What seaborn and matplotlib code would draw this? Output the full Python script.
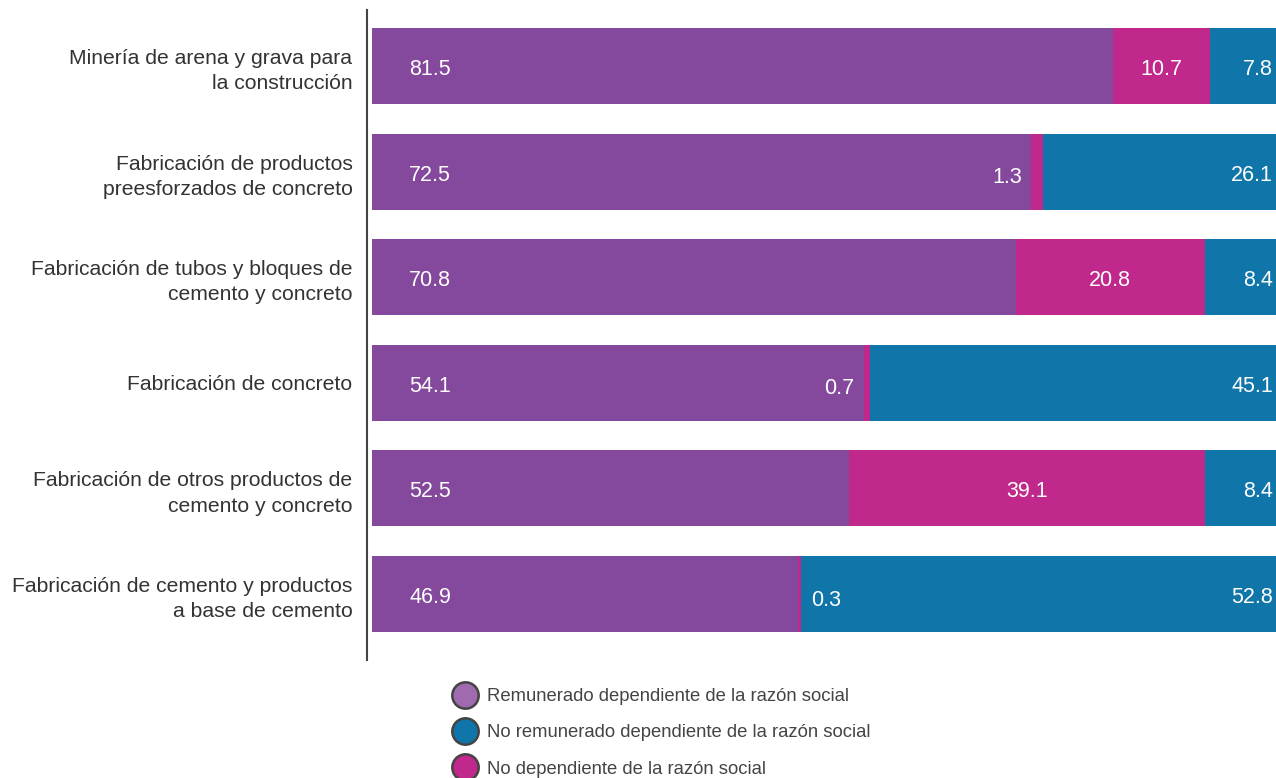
import matplotlib
matplotlib.use("Agg")
import matplotlib.pyplot as plt
from matplotlib.lines import Line2D
import numpy as np
import pandas as pd
import seaborn as sns

categories = [
    "Minería de arena y grava para\nla construcción",
    "Fabricación de productos\npreesforzados de concreto",
    "Fabricación de tubos y bloques de\ncemento y concreto",
    "Fabricación de concreto",
    "Fabricación de otros productos de\ncemento y concreto",
    "Fabricación de cemento y productos\na base de cemento",
]
remunerado = [81.5, 72.5, 70.8, 54.1, 52.5, 46.9]
no_dependiente = [10.7, 1.3, 20.8, 0.7, 39.1, 0.3]
no_remunerado = [7.8, 26.1, 8.4, 45.1, 8.4, 52.8]

series_names = [
    "Remunerado dependiente de la razón social",
    "No remunerado dependiente de la razón social",
    "No dependiente de la razón social",
]

PURPLE = "#84489c"
MAGENTA = "#c0288c"
BLUE = "#1076aa"

sns.set_theme(style="white")
plt.rcParams["font.family"] = ["Liberation Sans", "DejaVu Sans"]

df = pd.DataFrame({
    "cat": categories,
    "p": remunerado,
    "m": no_dependiente,
    "b": no_remunerado,
})
df["pm"] = df["p"] + df["m"]
df["total"] = df["pm"] + df["b"]

fig = plt.figure(figsize=(12.76, 7.78), dpi=100)
ax = fig.add_axes([367 / 1276, 1 - 660 / 778, 1 - 367 / 1276, 650 / 778])

# stacked bars drawn as overlapping cumulative bars
sns.barplot(data=df, y="cat", x="total", color=BLUE, orient="h", width=0.72,
            saturation=1, ax=ax)
sns.barplot(data=df, y="cat", x="pm", color=MAGENTA, orient="h", width=0.72,
            saturation=1, ax=ax)
sns.barplot(data=df, y="cat", x="p", color=PURPLE, orient="h", width=0.72,
            saturation=1, ax=ax)
for patch in ax.patches:
    patch.set_linewidth(0)

ax.set_xlim(-0.55, 99.45)
ax.set_ylim(5.625, -0.53)
ax.set_xlabel("")
ax.set_ylabel("")
ax.set_xticks([])
for side in ["top", "right", "bottom"]:
    ax.spines[side].set_visible(False)
ax.spines["left"].set_color("#444444")
ax.spines["left"].set_linewidth(1.5)
ax.tick_params(axis="y", length=0, pad=10.5, labelsize=15.2, labelcolor="#333333")
for t in ax.get_yticklabels():
    t.set_linespacing(1.42)

# value labels
lbl = dict(color="white", fontsize=15.5, va="baseline")
small_side = {1: "left", 3: "left", 5: "right"}
for i, row in df.iterrows():
    y = i + 0.085
    ax.text(4.1, y, f"{row['p']:.1f}", ha="left", **lbl)
    ax.text(99.1, y, f"{row['b']:.1f}", ha="right", **lbl)
    if row["m"] >= 5:
        ax.text(row["p"] + row["m"] / 2, y, f"{row['m']:.1f}", ha="center", **lbl)
    elif small_side.get(i) == "left":
        ax.text(row["p"] - 1.0, y + 0.025, f"{row['m']:.1f}", ha="right", **lbl)
    else:
        ax.text(row["pm"] + 1.1, y + 0.025, f"{row['m']:.1f}", ha="left", **lbl)

handles = [
    Line2D([], [], marker="o", linestyle="", markersize=19,
           markerfacecolor=c, markeredgecolor="#444444", markeredgewidth=1.8)
    for c in ["#a06aae", BLUE, MAGENTA]
]
fig.legend(handles, series_names, loc="upper left",
           bbox_to_anchor=(450.5 / 1276, 1 - 688 / 778), frameon=False,
           fontsize=13.3, labelcolor="#444444", handletextpad=0.36,
           handlelength=1.6, labelspacing=1.05, borderpad=0, borderaxespad=0)

fig.savefig("out.png", dpi=100)
